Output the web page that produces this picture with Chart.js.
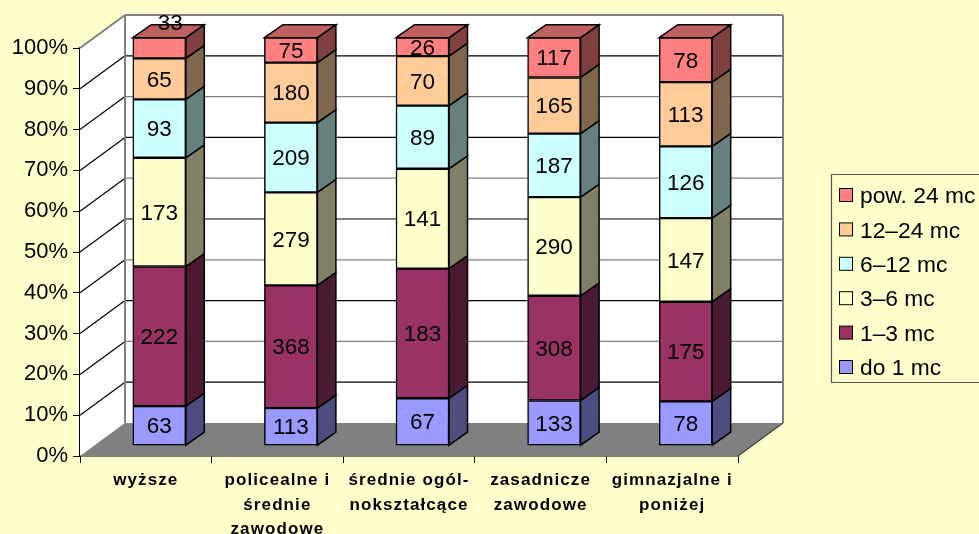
<!DOCTYPE html>
<html>
<head>
<meta charset="utf-8">
<title>Wykres</title>
<script src="https://cdn.jsdelivr.net/npm/chart.js@4/dist/chart.umd.min.js"></script>
<style>
  html, body { margin: 0; padding: 0; background: #FFFFCC; overflow: hidden; }
  canvas { display: block; }
</style>
</head>
<body>
<canvas id="wykres" width="979" height="534"></canvas>
<script>
// dane (liczby osób)
const categories = ['wyższe', ['policealne i', 'średnie', 'zawodowe'], ['średnie ogól-', 'nokształcące'], ['zasadnicze', 'zawodowe'], ['gimnazjalne i', 'poniżej']];
const seriesNames = ['do 1 mc', '1–3 mc', '3–6 mc', '6–12 mc', '12–24 mc', 'pow. 24 mc'];
const do1 = [63, 113, 67, 133, 78];
const od1do3 = [222, 368, 183, 308, 175];
const od3do6 = [173, 279, 141, 290, 147];
const od6do12 = [93, 209, 89, 187, 126];
const od12do24 = [65, 180, 70, 165, 113];
const pow24 = [33, 75, 26, 117, 78];
const seriesColors = ['#9999FF', '#993366', '#FFFFCC', '#CCFFFF', '#FFCC99', '#FF8080'];

const allSeries = [do1, od1do3, od3do6, od6do12, od12do24, pow24];
const totals = categories.map((c, i) => allSeries.reduce((s, a) => s + a[i], 0));

// przesunięcia "3D"
const DEPTH_X = 45, DEPTH_Y = -33;   // głębokość podłogi
const BAR_X = 13.5, BAR_Y = -10.3;   // przód słupka względem osi
const SIDE_X = 18.5, SIDE_Y = -13;   // głębokość słupka

function shade(hex, k) {
  const n = parseInt(hex.slice(1), 16);
  const r = Math.round((n >> 16 & 255) * k), g = Math.round((n >> 8 & 255) * k), b = Math.round((n & 255) * k);
  return `rgb(${r},${g},${b})`;
}

function poly(ctx, pts, fill, stroke, lw) {
  ctx.beginPath();
  pts.forEach((p, i) => i ? ctx.lineTo(p[0], p[1]) : ctx.moveTo(p[0], p[1]));
  ctx.closePath();
  if (fill) { ctx.fillStyle = fill; ctx.fill(); }
  if (stroke) { ctx.strokeStyle = stroke; ctx.lineWidth = lw; ctx.stroke(); }
}

const scena3d = {
  id: 'scena3d',
  // podpisy osi x są w oryginale rozstrzelone
  beforeDraw(chart) {
    const x = chart.scales.x;
    if (x._spaced) return;
    const orig = x.drawLabels;
    x.drawLabels = function(area) {
      chart.ctx.letterSpacing = '1.1px';
      orig.call(this, area);
      chart.ctx.letterSpacing = '0px';
    };
    x._spaced = true;
  },
  // ściany, podłoga i linie siatki
  beforeDatasetsDraw(chart) {
    const { ctx, chartArea: a, scales: { y } } = chart;
    const L = a.left, R = a.right, B = a.bottom, T = a.top;
    ctx.save();
    poly(ctx, [[L, B], [L, T], [L + DEPTH_X, T + DEPTH_Y], [L + DEPTH_X, B + DEPTH_Y]], '#FFFFFF');
    poly(ctx, [[L + DEPTH_X, T + DEPTH_Y], [R + DEPTH_X, T + DEPTH_Y], [R + DEPTH_X, B + DEPTH_Y], [L + DEPTH_X, B + DEPTH_Y]], '#FFFFFF');
    poly(ctx, [[L, B], [L + DEPTH_X, B + DEPTH_Y], [R + DEPTH_X, B + DEPTH_Y], [R, B]], '#808080');
    y.ticks.forEach(t => {
      if (t.value === 0) return;
      const py = y.getPixelForValue(t.value);
      const top = t.value === 100;
      ctx.lineWidth = top ? 2 : 1.2;
      ctx.strokeStyle = top ? '#808080' : '#000000';
      ctx.beginPath();
      ctx.moveTo(L, py);
      ctx.lineTo(L + DEPTH_X, py + DEPTH_Y);
      ctx.stroke();
      ctx.strokeStyle = (t.value % 20 === 0) ? '#808080' : '#000000';
      ctx.beginPath();
      ctx.moveTo(L + DEPTH_X, py + DEPTH_Y);
      ctx.lineTo(R + DEPTH_X, py + DEPTH_Y);
      ctx.stroke();
    });
    // krawędzie ściany
    ctx.strokeStyle = '#808080';
    ctx.lineWidth = 2;
    ctx.beginPath();
    ctx.moveTo(L + DEPTH_X, B + DEPTH_Y);
    ctx.lineTo(L + DEPTH_X, T + DEPTH_Y);
    ctx.moveTo(R + DEPTH_X, T + DEPTH_Y);
    ctx.lineTo(R + DEPTH_X, B + DEPTH_Y);
    ctx.stroke();
    ctx.strokeStyle = '#404040';
    ctx.lineWidth = 1.2;
    ctx.beginPath();
    ctx.moveTo(R, B);
    ctx.lineTo(R + DEPTH_X, B + DEPTH_Y);
    ctx.stroke();

    // boki i wierzch słupków
    chart.data.datasets.forEach((ds, d) => {
      chart.getDatasetMeta(d).data.forEach(bar => {
        const x1 = bar.x + bar.width / 2 + BAR_X;
        const x0 = bar.x - bar.width / 2 + BAR_X;
        const yT = bar.y + BAR_Y, yB = bar.base + BAR_Y;
        poly(ctx, [[x1, yB], [x1, yT], [x1 + SIDE_X, yT + SIDE_Y], [x1 + SIDE_X, yB + SIDE_Y]], shade(seriesColors[d], 0.5), '#000000', 1.5);
        if (d === chart.data.datasets.length - 1) {
          poly(ctx, [[x0, yT], [x0 + SIDE_X, yT + SIDE_Y], [x1 + SIDE_X, yT + SIDE_Y], [x1, yT]], shade(seriesColors[d], 0.75), '#000000', 1.5);
        }
      });
    });
    ctx.restore();
    // słupki rysuje biblioteka, tylko przesunięte w głąb
    ctx.save();
    ctx.translate(BAR_X, BAR_Y);
  },
  afterDatasetsDraw(chart) {
    const { ctx } = chart;
    ctx.restore();
    ctx.save();
    // etykiety wartości
    ctx.font = '22.5px "Liberation Sans", Arial, sans-serif';
    ctx.fillStyle = '#000000';
    ctx.textAlign = 'center';
    ctx.textBaseline = 'middle';
    chart.data.datasets.forEach((ds, d) => {
      chart.getDatasetMeta(d).data.forEach((bar, i) => {
        let lx = bar.x + BAR_X, ly = (bar.y + bar.base) / 2 + BAR_Y + 1.5;
        // "33" nie mieści się w segmencie, leży nad słupkiem
        if (d === 5 && i === 0) { lx += 11; ly -= 26; }
        ctx.fillText(String(allSeries[d][i]), lx, ly);
      });
    });

    // legenda
    const lx = 831.5, ly = 174.5;
    ctx.strokeStyle = '#555555';
    ctx.lineWidth = 1.2;
    ctx.beginPath();
    ctx.moveTo(985, ly);
    ctx.lineTo(lx, ly);
    ctx.lineTo(lx, 382.5);
    ctx.lineTo(985, 382.5);
    ctx.stroke();
    ctx.textAlign = 'left';
    ctx.font = '22.8px "Liberation Sans", Arial, sans-serif';
    seriesNames.slice().reverse().forEach((name, k) => {
      const cy = 195 + k * 34.4;
      const col = seriesColors[seriesNames.length - 1 - k];
      ctx.fillStyle = col;
      ctx.fillRect(839.5, cy - 6.5, 13, 13);
      ctx.strokeStyle = '#000000';
      ctx.lineWidth = 1;
      ctx.strokeRect(839.5, cy - 6.5, 13, 13);
      ctx.fillStyle = '#000000';
      ctx.fillText(name, 860, cy + 2);
    });
    ctx.restore();
  }
};

new Chart(document.getElementById('wykres'), {
  type: 'bar',
  data: {
    labels: categories,
    datasets: seriesNames.map((name, d) => ({
      label: name,
      data: allSeries[d].map((v, i) => v / totals[i] * 100),
      backgroundColor: seriesColors[d],
      borderColor: '#000000',
      borderWidth: 1.5,
      borderSkipped: false,
      barThickness: 53,
      clip: false
    }))
  },
  plugins: [scena3d],
  options: {
    responsive: false,
    animation: false,
    layout: { padding: { top: 48, right: 241, bottom: 0, left: 0 } },
    plugins: { legend: { display: false }, tooltip: { enabled: false } },
    scales: {
      x: {
        stacked: true,
        afterFit(s) { s.height = 78; },
        grid: { drawOnChartArea: false, drawTicks: true, tickLength: 7, color: '#000000', offset: true },
        border: { color: '#000000', width: 1.5 },
        ticks: {
          color: '#000000', maxRotation: 0, autoSkip: false, padding: 5,
          font: { family: '"Liberation Sans", Arial, sans-serif', size: 17, weight: 'bold', lineHeight: 1.45 }
        }
      },
      y: {
        stacked: true,
        min: 0,
        max: 100,
        afterFit(s) { s.width = 80; },
        grid: { drawOnChartArea: false, drawTicks: true, tickLength: 7, color: '#000000' },
        border: { color: '#000000', width: 1.5 },
        ticks: {
          stepSize: 10, color: '#000000', padding: 5,
          font: { family: '"Liberation Sans", Arial, sans-serif', size: 22 },
          callback: v => v + '%'
        }
      }
    }
  }
});
</script>
</body>
</html>
